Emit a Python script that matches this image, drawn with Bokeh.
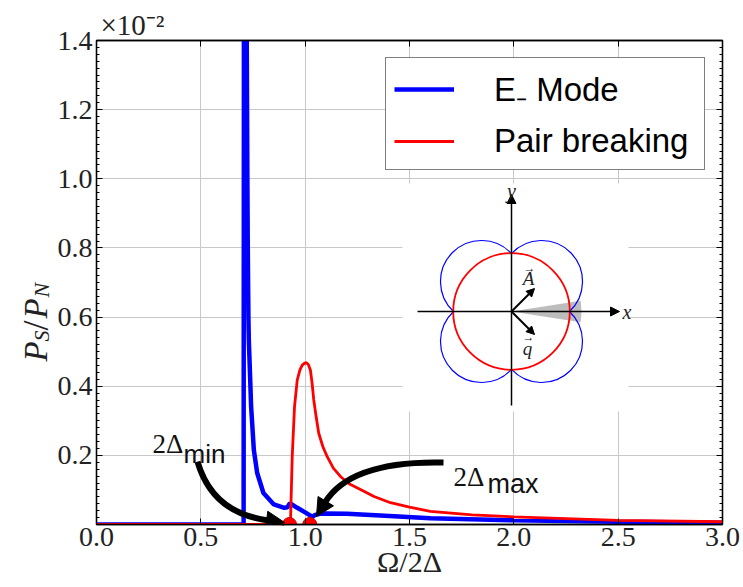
import numpy as np
from bokeh.plotting import figure
from bokeh.layouts import row
from bokeh.models import (Range1d, LinearAxis, FixedTicker, Label, Arrow, NormalHead,
                          Legend, LegendItem, NumeralTickFormatter, Title)
from bokeh.core.properties import value
from bokeh.embed import file_html
from bokeh.resources import INLINE

# ---------------- data ----------------
omega_blue = [0.0, 0.705, 0.707, 0.712, 0.720, 0.723, 0.725, 0.728, 0.730, 0.741, 0.754,
              0.770, 0.800, 0.850, 0.900, 0.915, 0.927, 0.960, 1.000, 1.035, 1.045,
              1.070, 1.100, 1.200, 1.360, 1.600, 2.000, 2.500, 3.000]
ps_blue = [0.0, 0.0, 2.0, 1.9, 1.40, 1.00, 0.80, 0.60, 0.534, 0.341, 0.216,
           0.149, 0.091, 0.058, 0.048, 0.050, 0.062, 0.049, 0.035, 0.022, 0.027,
           0.031, 0.032, 0.031, 0.026, 0.018, 0.012, 0.008, 0.005]

omega_red = [0.0, 0.925, 0.930, 0.938, 0.949, 0.962, 0.975, 0.986, 0.998, 1.006, 1.015,
             1.025, 1.033, 1.041, 1.053, 1.065, 1.085, 1.105, 1.135, 1.169, 1.210,
             1.265, 1.330, 1.409, 1.500, 1.600, 1.800, 2.000, 2.500, 3.000]
ps_red = [0.0, 0.0, 0.014, 0.197, 0.341, 0.418, 0.447, 0.461, 0.467, 0.468, 0.463,
          0.447, 0.410, 0.361, 0.310, 0.264, 0.225, 0.197, 0.163, 0.139, 0.118,
          0.101, 0.081, 0.063, 0.050, 0.038, 0.028, 0.022, 0.012, 0.008]

gap_edges = [0.925, 1.022]          # 2Δmin, 2Δmax
gap_edges_y = [0.0, 0.0]

x_ticks = [0.0, 0.5, 1.0, 1.5, 2.0, 2.5, 3.0]
y_ticks = [0.2, 0.4, 0.6, 0.8, 1.0, 1.2, 1.4]
y_minor = [round(0.02 * i, 2) for i in range(0, 71)]

legend_labels = ["E\u208b Mode", "Pair breaking"]
offset_text = "\u00d710\u207b\u00b2"
x_label = "\u03a9/2\u0394"
y_label_parts = ["P", "S", "/", "P", "N"]

SERIF = "Liberation Serif"
SANS = "Liberation Sans"

LEFT_W = 52        # page width taken by the y-label strip
STRIP_W = 72       # drawn width of the strip (main figure overlaps the extra part)
H = 587

# ---------------- main figure ----------------
p = figure(frame_width=626, frame_height=484, x_range=Range1d(0, 3), y_range=Range1d(0, 1.4),
           output_backend="svg", toolbar_location=None,
           min_border_left=96 - LEFT_W, min_border_right=21, min_border_top=40,
           min_border_bottom=50)
p.background_fill_color = "white"
p.border_fill_alpha = 0.0
p.outline_line_color = "black"
p.outline_line_width = 1.3

# pixel-like helper ranges (annotation placement, inset drawing)
p.extra_x_ranges = {"px": Range1d(96, 722), "ix": Range1d(-415, 211)}
p.extra_y_ranges = {"py": Range1d(524, 40), "iy": Range1d(-213, 271)}

xt = FixedTicker(ticks=x_ticks)
yt = FixedTicker(ticks=y_ticks, minor_ticks=y_minor)

def style_axis(ax, show_labels=True):
    ax.axis_line_color = "black"
    ax.axis_line_width = 1.3
    ax.major_tick_in = 6
    ax.major_tick_out = 0
    ax.minor_tick_in = 3
    ax.minor_tick_out = 0
    ax.major_tick_line_color = "black"
    ax.minor_tick_line_color = "black"
    ax.major_label_text_font = SERIF
    if show_labels:
        ax.major_label_text_color = "#222222"
        ax.major_label_text_font_size = "28px"
        ax.major_label_standoff = 4
    else:
        ax.major_label_text_color = None
        ax.major_label_text_font_size = "1px"
        ax.major_label_standoff = 0

p.xaxis.ticker = xt
p.yaxis.ticker = yt
p.xaxis.formatter = NumeralTickFormatter(format="0.0")
p.yaxis.formatter = NumeralTickFormatter(format="0.0")
style_axis(p.xaxis[0])
style_axis(p.yaxis[0])
p.xaxis.minor_tick_line_color = None
p.xaxis.major_label_standoff = 3

p.xaxis.axis_label = x_label
p.xaxis.axis_label_text_font = SERIF
p.xaxis.axis_label_text_font_size = "30px"
p.xaxis.axis_label_text_font_style = "normal"
p.xaxis.axis_label_text_color = "#222222"
p.xaxis.axis_label_standoff = -4

top_axis = LinearAxis(ticker=FixedTicker(ticks=x_ticks))
style_axis(top_axis, False)
top_axis.minor_tick_line_color = None
p.add_layout(top_axis, "above")
right_axis = LinearAxis(ticker=FixedTicker(ticks=y_ticks, minor_ticks=y_minor))
style_axis(right_axis, False)
p.add_layout(right_axis, "right")

p.title = Title(text=offset_text, align="left", offset=4, standoff=0,
                text_font=SERIF, text_font_size="29px", text_font_style="normal",
                text_color="#222222")

p.xgrid.ticker = xt
p.ygrid.ticker = yt
p.xgrid.grid_line_color = "#c8c8c8"
p.ygrid.grid_line_color = "#c8c8c8"

# ---------------- inset (schematic) ----------------
IX = dict(x_range_name="ix", y_range_name="iy")
p.quad(left=-109, right=117, bottom=-100, top=128, fill_color="white", line_color=None, **IX)
p.wedge(x=0, y=0, radius=70, start_angle=-0.155, end_angle=0.155,
        fill_color="#bdbdbd", line_color=None, **IX)
lobe_cx = [30, -30, -30, 30]
lobe_cy = [30, 30, -30, -30]
lobe_dir = [np.pi / 4, 3 * np.pi / 4, 5 * np.pi / 4, 7 * np.pi / 4]
span = np.deg2rad(92)
p.arc(x=lobe_cx, y=lobe_cy, radius=41,
      start_angle=[d - span for d in lobe_dir], end_angle=[d + span for d in lobe_dir],
      line_color="blue", line_width=1.2, **IX)
p.circle(x=[0], y=[0], radius=58.3, fill_color=None, line_color="red", line_width=1.8, **IX)

for (xs, ys_, xe, ye, lw, hs) in [(-94, 0, 108, 0, 1.5, 9), (0, -94, 0, 117, 1.5, 9),
                                  (0, 0, 23, 23, 2, 8), (0, 0, 23, -23, 2, 8)]:
    p.add_layout(Arrow(end=NormalHead(size=hs, fill_color="black", line_color="black"),
                       x_start=xs, y_start=ys_, x_end=xe, y_end=ye,
                       line_width=lw, line_color="black", **IX))

for txt, x, y, al, bl, sz in [("x", 111, 0, "left", "middle", "20px"),
                              ("y", 0, 110, "center", "bottom", "20px"),
                              ("A", 17, 33, "center", "middle", "19px"),
                              ("q", 16, -37, "center", "middle", "19px")]:
    p.add_layout(Label(x=x, y=y, text=txt, text_font=SERIF, text_font_style="italic",
                       text_font_size=sz, text_align=al, text_baseline=bl,
                       text_color="#222222", **IX))
for x, y in [(18, 44), (17, -25)]:
    p.add_layout(Label(x=x, y=y, text="\u2192", text_font=SERIF, text_font_size="12px",
                       text_align="center", text_baseline="middle", text_color="#222222", **IX))

# ---------------- curves ----------------
rb = p.line(omega_blue, ps_blue, line_color="blue", line_width=4.5)
rr = p.line(omega_red, ps_red, line_color="red", line_width=2.8)
p.scatter(gap_edges, gap_edges_y, size=14, fill_color="red", line_color="#cc0000")

# ---------------- curved annotation arrows ----------------
SX, SY = 208.67, 345.7   # px per data unit
def curved_arrow(x0, y0, cx, cy, tx, ty, head_px=16):
    dxp, dyp = (tx - cx) * SX, (ty - cy) * SY
    n = np.hypot(dxp, dyp)
    ex = tx - head_px * dxp / n / SX
    ey = ty - head_px * dyp / n / SY
    p.quadratic(x0=[x0], y0=[y0], x1=[ex], y1=[ey], cx=[cx], cy=[cy],
                line_color="black", line_width=6)
    p.add_layout(Arrow(end=NormalHead(size=18, fill_color="black", line_color="black"),
                       x_start=ex, y_start=ey, x_end=tx, y_end=ty,
                       line_color="black", line_width=6))

curved_arrow(0.484, 0.182, 0.556, 0.032, gap_edges[0] - 0.024, 0.006)
curved_arrow(1.663, 0.179, 1.217, 0.185, gap_edges[1] + 0.032, 0.023)

PX = dict(x_range_name="px", y_range_name="py")
def lab(text, x, y, font, size, style="normal", align="left"):
    p.add_layout(Label(x=x, y=y, text=text, text_font=font, text_font_size=size,
                       text_font_style=style, text_align=align, text_baseline="alphabetic",
                       text_color="#111111", **PX))

lab("2\u0394", 152, 443, SERIF, "27px")
lab("min", 183, 453, SANS, "26px")
lab("2\u0394", 453, 476, SERIF, "27px")
lab("max", 487, 483, SANS, "27px")

# ---------------- legend ----------------
legend = Legend(items=[LegendItem(label=legend_labels[0], renderers=[rb]),
                       LegendItem(label=legend_labels[1], renderers=[rr])],
                location="top_right")
legend.label_text_font = SANS
legend.label_text_font_size = "33px"
legend.label_text_color = "black"
legend.glyph_width = 60
legend.glyph_height = 30
legend.label_height = 40
legend.label_width = 202
legend.label_standoff = 40
legend.padding = 8
legend.spacing = 10
legend.margin = 17
legend.border_line_color = "black"
legend.border_line_width = 1.3
legend.background_fill_alpha = 1.0
p.add_layout(legend)

# ---------------- y-label strip ----------------
ys = figure(frame_width=STRIP_W, frame_height=H, x_range=Range1d(0, STRIP_W),
            y_range=Range1d(0, H), x_axis_type=None, y_axis_type=None,
            output_backend="svg", toolbar_location=None, min_border=0)
ys.outline_line_color = None
ys.grid.visible = False
ys.background_fill_color = "white"
ys.border_fill_color = "white"
ang = np.pi / 2
for txt, bx, by, sz, st in [(y_label_parts[0], 35, 321, "33px", "italic"),
                            (y_label_parts[1], 41, 301, "22px", "italic"),
                            (y_label_parts[2], 35, 290, "36px", "normal"),
                            (y_label_parts[3], 35, 278, "33px", "italic"),
                            (y_label_parts[4], 41, 257, "22px", "italic")]:
    ys.text(x=[bx], y=[H - by], text=[txt], angle=ang, text_font=value(SERIF),
            text_font_size=value(sz), text_font_style=st, text_align="left",
            text_baseline="alphabetic", text_color="#222222")

p.margin = (0, 0, 0, LEFT_W - STRIP_W)

layout = row(ys, p, spacing=0)
open("out.html", "w").write(file_html(layout, INLINE))
